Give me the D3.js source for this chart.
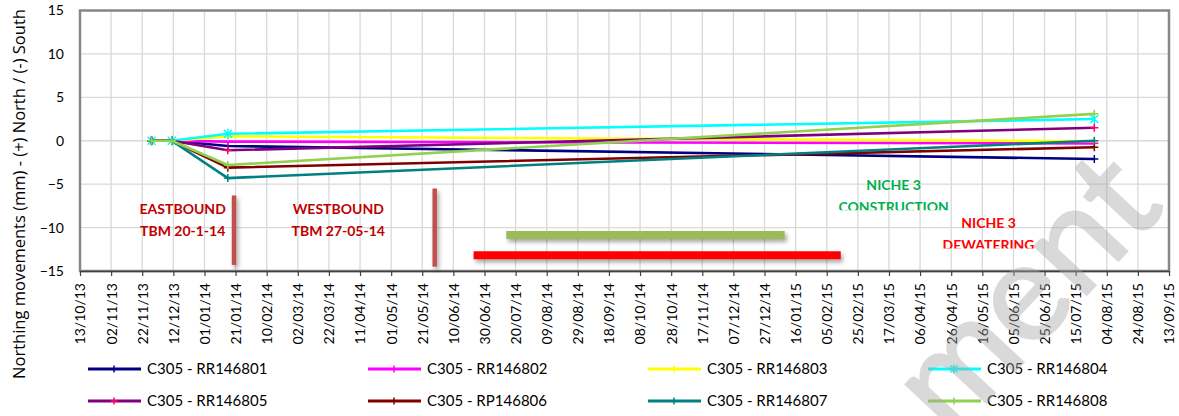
<!DOCTYPE html>
<html>
<head>
<meta charset="utf-8">
<script src="https://cdn.jsdelivr.net/npm/d3@7"></script>
<style>
  html, body { margin: 0; padding: 0; background: #fff; }
  svg { display: block; }
</style>
</head>
<body>
<svg id="chart" width="1179" height="416"></svg>
<script>
// ---------- DATA ----------
const tickLabels = ["13/10/13","02/11/13","22/11/13","12/12/13","01/01/14","21/01/14","10/02/14","02/03/14","22/03/14","11/04/14","01/05/14","21/05/14","10/06/14","30/06/14","20/07/14","09/08/14","29/08/14","18/09/14","08/10/14","28/10/14","17/11/14","07/12/14","27/12/14","16/01/15","05/02/15","25/02/15","17/03/15","06/04/15","26/04/15","16/05/15","05/06/15","25/06/15","15/07/15","04/08/15","24/08/15","13/09/15"];
const yTicks = [15, 10, 5, 0, -5, -10, -15];
const readingDates = ["28/11/13", "11/12/13", "16/01/14", "27/07/15"];
const seriesNames = ["C305 - RR146801","C305 - RR146802","C305 - RR146803","C305 - RR146804","C305 - RR146805","C305 - RP146806","C305 - RR146807","C305 - RR146808"];
const s801 = [0, 0, -0.6, -2.1];
const s802 = [0, 0, -0.1, -0.3];
const s803 = [0, 0, 0.5, -0.05];
const s804 = [0, 0, 0.8, 2.5];
const s805 = [0, 0, -1.1, 1.5];
const s806 = [0, 0, -3.1, -0.75];
const s807 = [0, 0, -4.3, 0.0];
const s808 = [0, 0, -2.8, 3.1];
const seriesValues = [s801, s802, s803, s804, s805, s806, s807, s808];
const lineColors = ["#000080","#ff00ff","#ffff00","#00ffff","#800080","#800000","#008080","#92d050"];
const markerColors = ["#000080","#ff00ff","#ffff00","#00ffff","#ff0066","#800000","#008080","#92d050"];
const markerShapes = ["+","+","+","x","+","+","+","+"];
// TBM markers (date, from value, to value)
const tbmDates = ["20/01/14", "29/05/14"];
const tbmFrom = [-6.3, -5.5];
const tbmTo = [-14.3, -14.5];
// activity bars (start date, end date, value)
const barStarts = ["14/07/14", "23/06/14"];
const barEnds = ["09/01/15", "14/02/15"];
const barValues = [-10.85, -13.2];
const barColors = ["#9bbb59", "#ff0000"];
// text notes
const noteLines = [["EASTBOUND","TBM 20-1-14"],["WESTBOUND","TBM 27-05-14"],["NICHE 3","CONSTRUCTION"],["NICHE 3","DEWATERING"]];
const noteDates = ["18/12/13", "28/03/14", "20/03/15", "20/05/15"];
const noteValues = [-8.45, -8.45, -5.65, -10.1];
const noteColors = ["#c00000","#c00000","#00b050","#ff0000"];
const noteClip = [null, null, -8.0, -12.4];
const yTitle = "Northing movements (mm) - (+) North / (-) South";
const watermark = "ment";

// ---------- CHART ----------
const parse = d3.utcParse("%d/%m/%y");
const svg = d3.select("#chart");
const L = 80, R = 1169, T = 10.5, B = 271;
const font = "Lato, 'Open Sans', sans-serif";
const tickDates = tickLabels.map(parse);
const x = d3.scaleUtc().domain([tickDates[0], tickDates[tickDates.length - 1]]).range([L, R]);
const y = d3.scaleLinear().domain([-15, 15]).range([B, T]);

const defs = svg.append("defs");
const f = defs.append("filter").attr("id", "shadow").attr("filterUnits", "userSpaceOnUse")
  .attr("x", 0).attr("y", 0).attr("width", 1179).attr("height", 416);
f.append("feDropShadow").attr("dx", 2).attr("dy", 3).attr("stdDeviation", 2).attr("flood-color", "#000").attr("flood-opacity", 0.35);

// grid
const g = svg.append("g");
g.selectAll("line.vg").data(tickDates).join("line")
  .attr("x1", d => x(d)).attr("x2", d => x(d)).attr("y1", T).attr("y2", B)
  .attr("stroke", "#d9d9d9").attr("stroke-width", 1.3);
g.selectAll("line.hg").data(yTicks).join("line")
  .attr("x1", L).attr("x2", R).attr("y1", d => y(d)).attr("y2", d => y(d))
  .attr("stroke", "#d9d9d9").attr("stroke-width", 1.3);

// frame
svg.append("rect").attr("x", L).attr("y", T).attr("width", R - L).attr("height", B - T)
  .attr("fill", "none").attr("stroke", "#878787").attr("stroke-width", 2.5);

// x axis
const xAxis = d3.axisBottom(x).tickValues(tickDates).tickFormat((d, i) => tickLabels[i]).tickSize(5).tickSizeOuter(0);
const xg = svg.append("g").attr("transform", `translate(0,${B})`).call(xAxis);
xg.select(".domain").attr("stroke", "#404040").attr("stroke-width", 1.5);
xg.selectAll(".tick line").attr("stroke", "#404040").attr("stroke-width", 1.2);
xg.selectAll(".tick text")
  .attr("font-family", font).attr("font-size", 14).attr("fill", "#000")
  .attr("transform", "rotate(-90)").attr("text-anchor", "end")
  .attr("x", -12).attr("y", 0).attr("dy", "0.35em");

// y axis
const yAxis = d3.axisLeft(y).tickValues(yTicks).tickSize(0).tickPadding(16);
const yg = svg.append("g").attr("transform", `translate(${L},0)`).call(yAxis);
yg.select(".domain").remove();
yg.selectAll(".tick text").attr("font-family", font).attr("font-size", 14).attr("fill", "#000");

svg.append("text").attr("transform", `translate(25,${(3 + 385) / 2}) rotate(-90)`)
  .attr("text-anchor", "middle").attr("font-family", "'Open Sans', Lato, sans-serif").attr("font-size", 16.5)
  .attr("fill", "#000").text(yTitle);

// TBM vertical bars
svg.append("g").selectAll("line").data(tbmDates).join("line")
  .attr("x1", d => x(parse(d))).attr("x2", d => x(parse(d)))
  .attr("y1", (d, i) => y(tbmFrom[i])).attr("y2", (d, i) => y(tbmTo[i]))
  .attr("stroke", "#c0504d").attr("stroke-width", 4.5).attr("filter", "url(#shadow)");

// activity bars
svg.append("g").selectAll("line").data(barStarts).join("line")
  .attr("x1", d => x(parse(d))).attr("x2", (d, i) => x(parse(barEnds[i])))
  .attr("y1", (d, i) => y(barValues[i])).attr("y2", (d, i) => y(barValues[i]))
  .attr("stroke", (d, i) => barColors[i]).attr("stroke-width", 8).attr("filter", "url(#shadow)");

// notes
noteLines.forEach((lines, i) => {
  const cx = x(parse(noteDates[i])), cy = y(noteValues[i]);
  const grp = svg.append("g");
  if (noteClip[i] !== null) {
    const id = "clip" + i;
    defs.append("clipPath").attr("id", id).append("rect")
      .attr("x", cx - 100).attr("y", cy - 30).attr("width", 200).attr("height", y(noteClip[i]) - (cy - 30));
    grp.attr("clip-path", `url(#${id})`);
  }
  lines.forEach((t, k) => {
    grp.append("text").attr("x", cx).attr("y", cy + k * 22).attr("text-anchor", "middle")
      .attr("font-family", font).attr("font-weight", "bold").attr("font-size", 14)
      .attr("fill", noteColors[i]).text(t);
  });
});

// series
const readDates = readingDates.map(parse);
const line = d3.line().x((d, i) => x(readDates[i])).y(d => y(d));
const sg = svg.append("g");
function marker(gr, px, py, shape, color, s) {
  const d = shape === "x"
    ? `M${px - s},${py - s}L${px + s},${py + s}M${px - s},${py + s}L${px + s},${py - s}M${px},${py - s - 1}L${px},${py + s + 1}`
    : `M${px - s},${py}L${px + s},${py}M${px},${py - s}L${px},${py + s}`;
  gr.append("path").attr("d", d).attr("stroke", color).attr("stroke-width", 1.5).attr("fill", "none");
}
seriesValues.forEach((vals, si) => {
  sg.append("path").datum(vals).attr("d", line).attr("fill", "none")
    .attr("stroke", lineColors[si]).attr("stroke-width", 2.6).attr("stroke-linejoin", "round");
  vals.forEach((v, i) => marker(sg, x(readDates[i]), y(v), markerShapes[si], markerColors[si], 4));
});

// legend
const lg = svg.append("g");
seriesNames.forEach((name, i) => {
  const col = i % 4, row = Math.floor(i / 4);
  const lx = 88 + col * 280, ly = 369 + row * 32;
  lg.append("line").attr("x1", lx).attr("x2", lx + 53).attr("y1", ly).attr("y2", ly)
    .attr("stroke", lineColors[i]).attr("stroke-width", 3);
  marker(lg, lx + 26, ly, markerShapes[i], markerColors[i], 3.5);
  lg.append("text").attr("x", lx + 59).attr("y", ly).attr("dy", "0.35em")
    .attr("font-family", font).attr("font-size", 15).attr("fill", "#000").text(name);
});

// watermark
svg.append("text").attr("transform", "translate(951,440) rotate(-47)")
  .attr("font-family", font).attr("font-size", 140)
  .attr("fill", "#a6a6a6").attr("stroke", "#a6a6a6").attr("stroke-width", 2.5)
  .attr("opacity", 0.42).text(watermark);
</script>
</body>
</html>
